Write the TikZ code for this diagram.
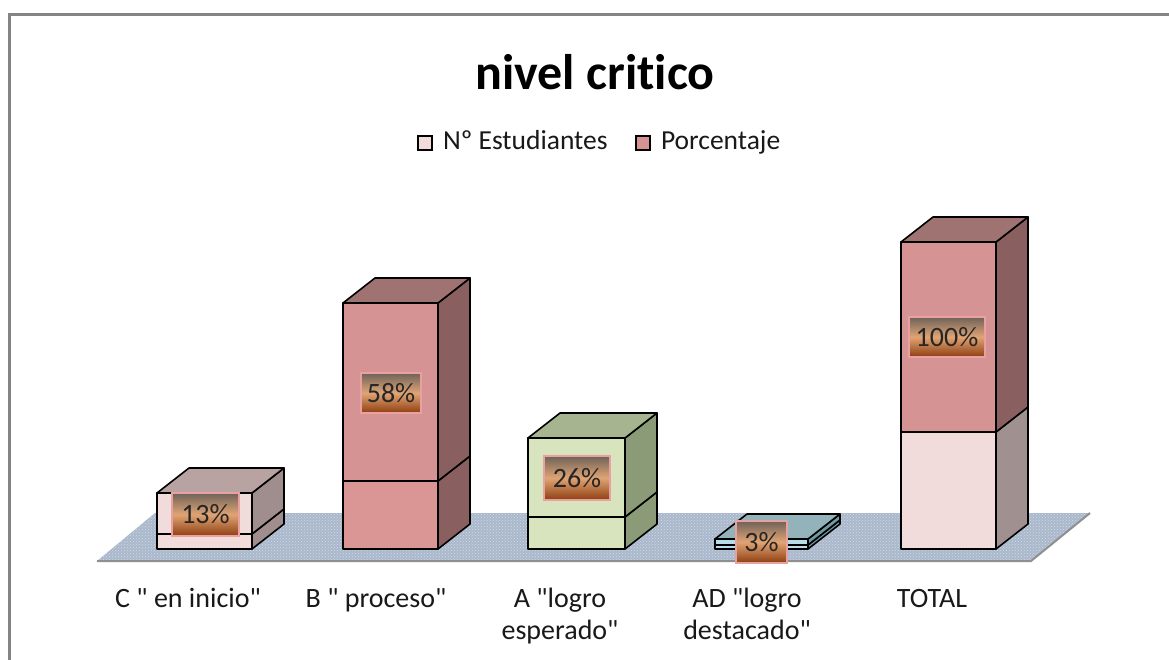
\documentclass[tikz,border=0pt]{standalone}
\usepackage{fontspec}
\setmainfont{Carlito}[Ligatures={TeXOff,NoCommon}]
\usetikzlibrary{positioning,patterns}

\definecolor{framecol}{HTML}{848484}
\definecolor{floorcol}{HTML}{AAB8CC}
\definecolor{floordot}{HTML}{D3DBE6}
\definecolor{floorshade}{HTML}{8F8F8F}
\definecolor{stud}{HTML}{F2DCDB}
\definecolor{pctc}{HTML}{D59393}
\definecolor{cside}{HTML}{A08E8E}
\definecolor{ctop}{HTML}{B8A2A2}
\definecolor{bfront}{HTML}{DA9694}
\definecolor{bside}{HTML}{8A5F5F}
\definecolor{btop}{HTML}{A07373}
\definecolor{afront}{HTML}{D7E4BD}
\definecolor{aside}{HTML}{8B9A77}
\definecolor{atop}{HTML}{A6B58F}
\definecolor{adfront}{HTML}{B7DDE8}
\definecolor{adside}{HTML}{6F9AA3}
\definecolor{adtop}{HTML}{93B3BA}
\definecolor{tside}{HTML}{A09090}
\definecolor{boxedge}{HTML}{E8A0A0}
\definecolor{lbltop}{HTML}{6E6259}
\definecolor{lblmid}{HTML}{E0A474}
\definecolor{lblbot}{HTML}{8E3E10}

% one block of a bar: front face and right face
\newcommand{\barblock}[6]{%
  \filldraw[fill=#5,edge] (#1,#3) rectangle (#2,#4);
  \filldraw[fill=#6,edge] (#2,#3) -- ++(32,-25) -- ++(0,#4-#3) -- (#2,#4) -- cycle;
}
% top face of a bar
\newcommand{\bartop}[4]{%
  \filldraw[fill=#4,edge] (#1,#3) -- ++(32,-25) -- ++(#2-#1,0) -- (#2,#3) -- cycle;
}

\begin{document}
\begin{tikzpicture}[x=1pt,y=-1pt,
  edge/.style={draw=black,line width=1.6pt,line join=round},
  pct/.style={draw=boxedge,line width=1.5pt,top color=lbltop,bottom color=lblbot,middle color=lblmid,
    inner sep=0pt,font=\fontsize{28}{28}\selectfont,text=black!85},
  cat/.style={font=\fontsize{28}{32}\selectfont,align=center,anchor=base,text=black!90},
  legbox/.style={draw=black,line width=1.6pt,minimum size=14pt,inner sep=0pt},
  legtext/.style={font=\fontsize{27.5}{27.5}\selectfont,inner sep=0pt,text height=19pt,text depth=6pt,text=black!90},
]
\useasboundingbox (0,0) rectangle (1169,660);
\fill[white] (0,0) rectangle (1169,660);
%%
  % Frame
  \draw[framecol,line width=3pt] (9,660) -- (9,15) -- (1169,15);
  % Title
  \node[font=\fontsize{50}{60}\selectfont\bfseries] (title) at (595,72) {nivel critico};
  % Legend
  \node[legbox,fill=stud] (kS) at (425,143) {};
  \node[legtext,right=10pt of kS] (tS) {Nº Estudiantes};
  \node[legbox,fill=pctc] (kP) at (643,143) {};
  \node[legtext,right=10pt of kP] (tP) {Porcentaje};
%
  % Floor
  \fill[floorcol] (97,561) -- (1031,561) -- (1090,513) -- (155,513) -- cycle;
  \fill[pattern=crosshatch dots,pattern color=floordot] (97,561) -- (1031,561) -- (1090,513) -- (155,513) -- cycle;
  \draw[floorshade,line width=2pt] (97,561) -- (1031,561) -- (1090,513);
%
  % Bar: C
  \barblock{157}{252}{549}{534}{stud}{cside}
  \barblock{157}{252}{534}{493}{stud}{cside}
  \bartop{157}{252}{493}{ctop}
  % Bar: B
  \barblock{343}{438}{549}{481}{bfront}{bside}
  \barblock{343}{438}{481}{303}{pctc}{bside}
  \bartop{343}{438}{303}{btop}
  % Bar: A
  \barblock{528}{625}{549}{517}{afront}{aside}
  \barblock{528}{625}{517}{438}{afront}{aside}
  \bartop{528}{625}{438}{atop}
  % Bar: AD
  \barblock{715}{808}{549}{545}{adfront}{adside}
  \barblock{715}{808}{545}{539}{adfront}{adside}
  \bartop{715}{808}{539}{adtop}
  % Bar: TOTAL
  \barblock{901}{996}{549}{432}{stud}{tside}
  \barblock{901}{996}{432}{242}{pctc}{bside}
  \bartop{901}{996}{242}{btop}
%
  % Data labels
  \node[pct,minimum width=67pt,minimum height=43pt] (pC) at (205.5,514.5) {13\%};
  \node[pct,minimum width=60pt,minimum height=40pt] (pB) at (391,393) {58\%};
  \node[pct,minimum width=66pt,minimum height=44pt] (pA) at (577,478) {26\%};
  \node[pct,minimum width=51pt,minimum height=42pt] (pAD) at (761.5,542) {3\%};
  \node[pct,minimum width=76pt,minimum height=40pt] (pT) at (947,337) {100\%};
%
  % Categories (two-line ones sit on their last line)
  \node[cat] (cC) at (188,607) {C " en inicio"};
  \node[cat] (cB) at (376,607) {B " proceso"};
  \node[cat] (cA) at (560,639) {A "logro\\esperado"};
  \node[cat] (cAD) at (747,639) {AD "logro\\destacado"};
  \node[cat] (cT) at (932,607) {TOTAL};
%
\end{tikzpicture}
\end{document}
